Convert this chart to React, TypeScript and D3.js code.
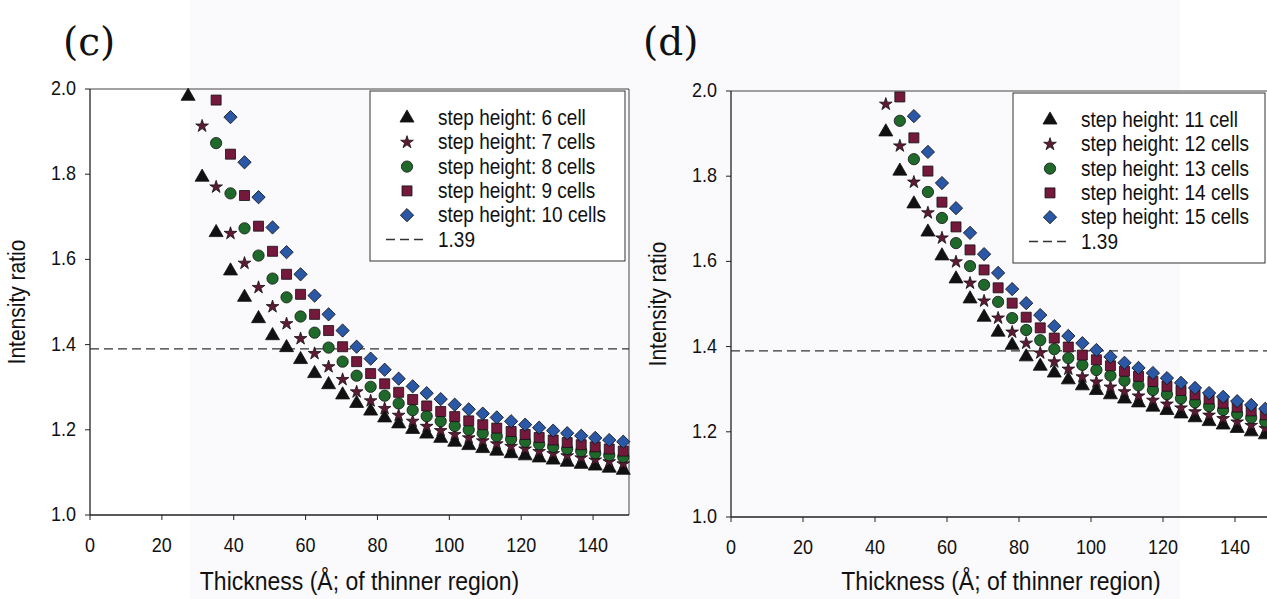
import React from "react";
import * as d3 from "d3";

// thickness of the thinner region, one point per unit cell (Å)
const thickness = [27.3, 31.2, 35.1, 39.1, 43.0, 46.9, 50.8, 54.7, 58.6, 62.5, 66.4, 70.3, 74.2, 78.1, 82.0, 85.9, 89.8, 93.7, 97.6, 101.5, 105.4, 109.3, 113.2, 117.2, 121.1, 125.0, 128.9, 132.8, 136.7, 140.6, 144.5, 148.4];

// panel (c): every series ends at the last thickness
const h6 = [1.983, 1.793, 1.663, 1.573, 1.511, 1.461, 1.421, 1.393, 1.365, 1.332, 1.306, 1.282, 1.262, 1.244, 1.228, 1.214, 1.201, 1.190, 1.180, 1.171, 1.163, 1.156, 1.150, 1.144, 1.139, 1.134, 1.129, 1.124, 1.119, 1.115, 1.110, 1.105];
const h7 = [1.913, 1.770, 1.661, 1.591, 1.534, 1.489, 1.449, 1.414, 1.379, 1.348, 1.318, 1.289, 1.268, 1.250, 1.234, 1.220, 1.208, 1.198, 1.189, 1.181, 1.174, 1.167, 1.161, 1.155, 1.149, 1.144, 1.139, 1.134, 1.129, 1.125, 1.120];
const h8 = [1.873, 1.755, 1.673, 1.609, 1.555, 1.511, 1.466, 1.428, 1.393, 1.360, 1.327, 1.301, 1.280, 1.262, 1.246, 1.232, 1.220, 1.209, 1.200, 1.192, 1.185, 1.178, 1.172, 1.166, 1.160, 1.155, 1.150, 1.145, 1.140, 1.136];
const h9 = [1.974, 1.847, 1.750, 1.678, 1.619, 1.565, 1.518, 1.471, 1.433, 1.395, 1.360, 1.332, 1.308, 1.288, 1.271, 1.256, 1.243, 1.231, 1.221, 1.212, 1.204, 1.196, 1.189, 1.182, 1.176, 1.170, 1.165, 1.160, 1.155, 1.150];
const h10 = [1.934, 1.828, 1.746, 1.675, 1.617, 1.565, 1.515, 1.471, 1.433, 1.395, 1.367, 1.341, 1.320, 1.302, 1.286, 1.272, 1.259, 1.248, 1.238, 1.229, 1.220, 1.212, 1.205, 1.198, 1.192, 1.186, 1.181, 1.176, 1.172];

// panel (d)
const h11 = [1.904, 1.812, 1.735, 1.669, 1.613, 1.559, 1.512, 1.469, 1.434, 1.403, 1.376, 1.354, 1.338, 1.322, 1.308, 1.297, 1.287, 1.277, 1.268, 1.258, 1.250, 1.242, 1.233, 1.224, 1.216, 1.208, 1.200, 1.193];
const h12 = [1.969, 1.871, 1.786, 1.714, 1.655, 1.599, 1.549, 1.507, 1.467, 1.434, 1.408, 1.385, 1.364, 1.347, 1.329, 1.317, 1.305, 1.294, 1.284, 1.274, 1.265, 1.256, 1.247, 1.239, 1.231, 1.223, 1.215, 1.208];
const h13 = [1.930, 1.840, 1.763, 1.702, 1.643, 1.589, 1.545, 1.505, 1.467, 1.439, 1.415, 1.394, 1.373, 1.357, 1.345, 1.332, 1.320, 1.309, 1.298, 1.288, 1.278, 1.269, 1.260, 1.251, 1.242, 1.233, 1.224];
const h14 = [1.986, 1.890, 1.812, 1.739, 1.681, 1.627, 1.580, 1.538, 1.502, 1.469, 1.444, 1.420, 1.399, 1.380, 1.369, 1.355, 1.342, 1.330, 1.318, 1.307, 1.297, 1.287, 1.277, 1.267, 1.258, 1.249, 1.240];
const h15 = [1.941, 1.857, 1.784, 1.725, 1.667, 1.617, 1.573, 1.535, 1.502, 1.474, 1.448, 1.425, 1.408, 1.392, 1.376, 1.362, 1.350, 1.338, 1.326, 1.315, 1.303, 1.291, 1.282, 1.272, 1.263, 1.254];

const labelsC = ["step height: 6 cell", "step height: 7 cells", "step height: 8 cells", "step height: 9 cells", "step height: 10 cells"];
const labelsD = ["step height: 11 cell", "step height: 12 cells", "step height: 13 cells", "step height: 14 cells", "step height: 15 cells"];
const threshold = 1.39;
const xTicks = [0, 20, 40, 60, 80, 100, 120, 140];
const yTicks = [1.0, 1.2, 1.4, 1.6, 1.8, 2.0];

const marks = [
  { type: d3.symbolTriangle, size: 85, fill: "#111111", rotate: 0 },
  { type: d3.symbolStar, size: 50, fill: "#5e1a34", rotate: 0 },
  { type: d3.symbolCircle, size: 100, fill: "#1f6a2a", rotate: 0 },
  { type: d3.symbolSquare, size: 100, fill: "#74183c", rotate: 0 },
  { type: d3.symbolSquare, size: 88, fill: "#2b58a6", rotate: 45 },
];

const font = "Liberation Sans, Arial, sans-serif";

// the scan is a little stretched vertically, so the sans text is too
const Label = ({ x, y, size, anchor = "start", rotate = 0, children }) => (
  <text
    transform={`translate(${x},${y}) rotate(${rotate}) scale(1,1.15)`}
    textAnchor={anchor}
    fontFamily={font}
    fontSize={size}
    fill="#111"
  >
    {children}
  </text>
);

const Marker = ({ x, y, index }) => {
  const m = marks[index];
  const d = d3.symbol().type(m.type).size(m.size)();
  return (
    <path
      d={d}
      transform={`translate(${x},${y}) rotate(${m.rotate})`}
      fill={m.fill}
      stroke="#111"
      strokeWidth={0.8}
    />
  );
};

const Panel = ({ tag, tagX, box, series, labels, legend }) => {
  const x = d3.scaleLinear().domain([0, 150]).range([box.left, box.right]);
  const y = d3.scaleLinear().domain([1.0, 2.0]).range([box.bottom, box.top]);
  const fmt = d3.format(".1f");
  const midX = (box.left + box.right) / 2;
  const midY = (box.top + box.bottom) / 2;
  const row = 24.3;

  return (
    <g>
      <text x={tagX} y={55} fontFamily="DejaVu Serif, serif" fontSize={39} fill="#111">
        {tag}
      </text>

      {/* frame */}
      <line x1={box.left} x2={box.right} y1={box.top} y2={box.top} stroke="#444" strokeWidth={1} />
      <line x1={box.right} x2={box.right} y1={box.top} y2={box.bottom} stroke="#444" strokeWidth={1} />
      <line x1={box.left} x2={box.left} y1={box.top} y2={box.bottom} stroke="#222" strokeWidth={1.3} />
      <line x1={box.left} x2={box.right} y1={box.bottom} y2={box.bottom} stroke="#222" strokeWidth={1.3} />

      {yTicks.map(t => (
        <g key={"y" + t}>
          <line x1={box.left - 5} x2={box.left} y1={y(t)} y2={y(t)} stroke="#222" />
          <Label x={box.left - 14} y={y(t) + 6} size={18} anchor="end">{fmt(t)}</Label>
        </g>
      ))}
      {xTicks.map(t => (
        <g key={"x" + t}>
          <line x1={x(t)} x2={x(t)} y1={box.bottom} y2={box.bottom + 5} stroke="#222" />
          <Label x={x(t)} y={box.bottom + 37} size={18} anchor="middle">{t}</Label>
        </g>
      ))}

      <Label x={midX} y={590} size={23} anchor="middle">Thickness (Å; of thinner region)</Label>
      <Label x={box.left - 65} y={midY} size={21} anchor="middle" rotate={-90}>Intensity ratio</Label>

      <line
        x1={x(0)} x2={x(150)} y1={y(threshold)} y2={y(threshold)}
        stroke="#333" strokeWidth={1.3} strokeDasharray="9,5"
      />

      {series.map((values, i) => {
        const xs = thickness.slice(thickness.length - values.length);
        return (
          <g key={i}>
            {values.map((v, j) => (
              <Marker key={j} x={x(xs[j])} y={y(v)} index={i} />
            ))}
          </g>
        );
      })}

      {/* legend */}
      <rect x={legend.x} y={legend.y} width={legend.w} height={legend.h} fill="white" stroke="#333" strokeWidth={1} />
      {labels.map((l, i) => (
        <g key={l}>
          <Marker x={legend.x + 37} y={legend.y + 27 + i * row} index={i} />
          <Label x={legend.x + 68} y={legend.y + 34 + i * row} size={19}>{l}</Label>
        </g>
      ))}
      <line
        x1={legend.x + 16} x2={legend.x + 58}
        y1={legend.y + 27 + 5 * row} y2={legend.y + 27 + 5 * row}
        stroke="#333" strokeWidth={1.3} strokeDasharray="9,5"
      />
      <Label x={legend.x + 68} y={legend.y + 34 + 5 * row} size={19}>{threshold}</Label>
    </g>
  );
};

const App = () => (
  <svg
    width={1267}
    height={599}
    style={{ position: "absolute", left: 0, top: 0, background: "white" }}
  >
    <rect x={190} y={0} width={990} height={599} fill="#fafafc" />
    <Panel
      tag="(c)"
      tagX={63}
      box={{ left: 90, right: 629, top: 89, bottom: 515 }}
      series={[h6, h7, h8, h9, h10]}
      labels={labelsC}
      legend={{ x: 370, y: 91, w: 255, h: 170 }}
    />
    <Panel
      tag="(d)"
      tagX={643}
      box={{ left: 731, right: 1271, top: 91, bottom: 517 }}
      series={[h11, h12, h13, h14, h15]}
      labels={labelsD}
      legend={{ x: 1013, y: 93, w: 252, h: 170 }}
    />
  </svg>
);

export default App;
